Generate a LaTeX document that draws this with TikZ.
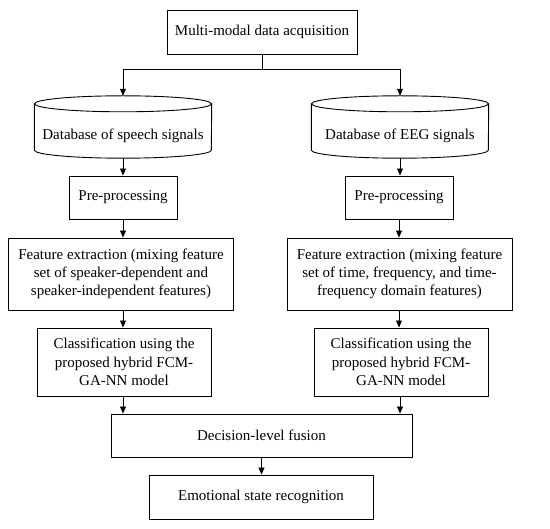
\documentclass[tikz,border=0pt]{standalone}
\usepackage{fontspec}
\setmainfont{Liberation Serif}
\usepackage{tikz}
\usetikzlibrary{arrows.meta,calc,positioning}
\tikzset{
  flowbox/.style={draw,line width=0.9pt,align=center,inner sep=2pt,
    font=\fontsize{15}{18.3}\selectfont},
  dbbody/.style={align=center,inner sep=2pt,text height=20.5pt,text depth=3.3pt,
    font=\fontsize{15}{18.3}\selectfont},
  flowarrow/.style={-{Triangle[length=7pt,width=6pt]},line width=0.9pt}
}

\begin{document}
\begin{tikzpicture}[x=1pt,y=-1pt]
  \useasboundingbox (0,0) rectangle (550,529);
  % top
  \node[flowbox,minimum width=190pt,minimum height=44pt] (acq) at (262,32) {Multi-modal data acquisition};
  % databases
  \node[dbbody,minimum width=177pt,minimum height=54pt] (dbS) at (123,131) {Database of speech signals};
  \node[dbbody,minimum width=177pt,minimum height=54pt] (dbE) at (400,131) {Database of EEG signals};
  \foreach \db in {dbS,dbE}{
    \draw[line width=0.9pt] (\db.north) ellipse [x radius=88.5pt,y radius=8pt];
    \draw[line width=0.9pt] (\db.north west) -- ($(\db.south west)+(0,-8)$)
      arc [start angle=180,end angle=360,x radius=88.5pt,y radius=8pt] -- (\db.north east);
    \coordinate (\db-top) at ($(\db.north)+(0,-8)$);
  }
  % left column
  \node[flowbox,minimum width=108pt,minimum height=43pt] (preS) at (123,197.5) {Pre-processing};
  \node[flowbox,minimum width=225pt,minimum height=72pt] (featS) at (121,274) {Feature extraction (mixing feature\\set of speaker-dependent and\\speaker-independent features)};
  \node[flowbox,minimum width=174pt,minimum height=68pt] (clsS) at (124,362) {Classification using the\\proposed hybrid FCM-\\GA-NN model};
  % right column
  \node[flowbox,minimum width=108pt,minimum height=43pt] (preE) at (399,197.5) {Pre-processing};
  \node[flowbox,minimum width=225pt,minimum height=72pt] (featE) at (399.5,274) {Feature extraction (mixing feature\\set of time, frequency, and time-\\frequency domain features)};
  \node[flowbox,minimum width=174pt,minimum height=68pt] (clsE) at (401,362) {Classification using the\\proposed hybrid FCM-\\GA-NN model};
  % bottom
  \node[flowbox,minimum width=301pt,minimum height=43pt] (fuse) at (261.5,435.5) {Decision-level fusion};
  \node[flowbox,minimum width=224pt,minimum height=44pt] (emo) at (261,497) {Emotional state recognition};

  \draw[line width=0.9pt] (acq.south) -- ++(0,15) coordinate (split);
  \draw[flowarrow] (split) -| (dbS-top);
  \draw[flowarrow] (split) -| (dbE-top);
  \draw[flowarrow] (dbS.south) -- (preS.north);
  \draw[flowarrow] (dbE.south) -- (dbE.south |- preE.north);
  \draw[flowarrow] (preS.south) -- (preS.south |- featS.north);
  \draw[flowarrow] (preE.south) -- (preE.south |- featE.north);
  \draw[flowarrow] (preS.south |- featS.south) -- (preS.south |- clsS.north);
  \draw[flowarrow] (preE.south |- featE.south) -- (preE.south |- clsE.north);
  \draw[flowarrow] (preS.south |- clsS.south) -- (preS.south |- fuse.north);
  \draw[flowarrow] (dbE.south |- clsE.south) -- (dbE.south |- fuse.north);
  \draw[flowarrow] (fuse.south) -- (fuse.south |- emo.north);
\end{tikzpicture}
\end{document}
